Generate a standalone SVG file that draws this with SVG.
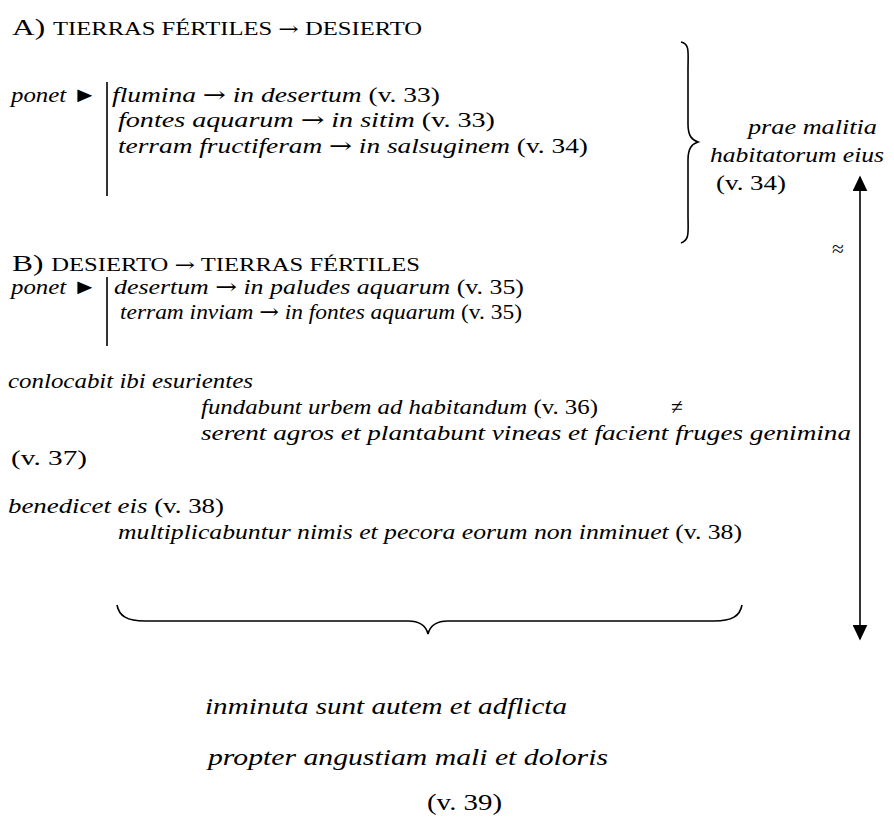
<svg xmlns="http://www.w3.org/2000/svg" width="894" height="819" viewBox="0 0 894 819">
<defs>
<style>
text{font-family:"Liberation Serif","Times New Roman",serif;font-size:21.5px;fill:#000}
.i{font-style:italic}
.sc{font-size:18px}
.hd{font-size:23px}
.big{font-size:23px}
.ar{font-family:"DejaVu Serif","Liberation Serif",serif}
.ln{stroke:#000;stroke-width:1.6;fill:none}
</style>
<marker id="ah" viewBox="0 0 10 10" refX="9" refY="5" markerWidth="16" markerHeight="15" markerUnits="userSpaceOnUse" orient="auto-start-reverse" preserveAspectRatio="none">
<path d="M0,0 L10,5 L0,10 Z" fill="#000"/>
</marker>
</defs>
<rect width="894" height="819" fill="#fff"/>
<g id="headA"><text x="12" y="35" class="hd" textLength="410" lengthAdjust="spacingAndGlyphs">A) <tspan class="sc">TIERRAS FÉRTILES <tspan class="ar">→</tspan> DESIERTO</tspan></text></g>
<g id="groupA">
<text x="11" y="102" textLength="86" lengthAdjust="spacingAndGlyphs"><tspan class="i">ponet</tspan> ►</text>
<line class="ln" x1="107" y1="82" x2="107" y2="196"/>
<text x="112" y="102" textLength="328" lengthAdjust="spacingAndGlyphs"><tspan class="i">flumina <tspan class="ar">→</tspan> in desertum</tspan> (v. 33)</text>
<text x="118" y="127" textLength="377" lengthAdjust="spacingAndGlyphs"><tspan class="i">fontes aquarum <tspan class="ar">→</tspan> in sitim</tspan>  (v. 33)</text>
<text x="118" y="153" textLength="470" lengthAdjust="spacingAndGlyphs"><tspan class="i">terram fructiferam <tspan class="ar">→</tspan>  in salsuginem</tspan> (v. 34)</text>
</g>
<g id="causa">
<text x="748" y="134" class="i" textLength="129" lengthAdjust="spacingAndGlyphs">prae malitia</text>
<text x="710" y="162" class="i" textLength="174" lengthAdjust="spacingAndGlyphs">habitatorum eius</text>
<text x="716" y="190" textLength="70" lengthAdjust="spacingAndGlyphs">(v. 34)</text>
</g>
<g id="headB"><text x="12" y="271" class="hd" textLength="408" lengthAdjust="spacingAndGlyphs">B) <tspan class="sc">DESIERTO <tspan class="ar">→</tspan> TIERRAS FÉRTILES</tspan></text></g>
<g id="groupB">
<text x="11" y="294" textLength="86" lengthAdjust="spacingAndGlyphs"><tspan class="i">ponet</tspan> ►</text>
<line class="ln" x1="107" y1="277" x2="107" y2="346"/>
<text x="114" y="294" textLength="410" lengthAdjust="spacingAndGlyphs"><tspan class="i">desertum <tspan class="ar">→</tspan> in paludes aquarum</tspan> (v. 35)</text>
<text x="120" y="319" textLength="402" lengthAdjust="spacingAndGlyphs"><tspan class="i">terram inviam <tspan class="ar">→</tspan> in fontes aquarum</tspan> (v. 35)</text>
</g>
<g id="conlocabit">
<text x="8" y="388" class="i" textLength="245" lengthAdjust="spacingAndGlyphs">conlocabit ibi esurientes</text>
<text x="201" y="414" textLength="397" lengthAdjust="spacingAndGlyphs"><tspan class="i">fundabunt urbem ad habitandum</tspan> (v. 36)</text>
<text x="671" y="414">≠</text>
<text x="201" y="440" class="i" textLength="650" lengthAdjust="spacingAndGlyphs">serent agros et plantabunt vineas et facient fruges genimina</text>
<text x="11" y="465" textLength="76" lengthAdjust="spacingAndGlyphs">(v. 37)</text>
</g>
<g id="benedicet">
<text x="8" y="513" textLength="216" lengthAdjust="spacingAndGlyphs"><tspan class="i">benedicet eis</tspan> (v. 38)</text>
<text x="118" y="539" textLength="624" lengthAdjust="spacingAndGlyphs"><tspan class="i">multiplicabuntur nimis et pecora eorum non inminuet</tspan> (v. 38)</text>
</g>
<g id="conclusion">
<text x="205" y="714" class="i big" textLength="362" lengthAdjust="spacingAndGlyphs">inminuta sunt autem et adflicta</text>
<text x="208" y="765" class="i big" textLength="400" lengthAdjust="spacingAndGlyphs">propter angustiam mali et doloris</text>
<text x="427" y="810" class="big" textLength="75" lengthAdjust="spacingAndGlyphs">(v. 39)</text>
</g>
<g id="connectors">
<path class="ln" d="M681,42 C690,44 688,52 688,70 L688,124 C688,136 692,140 698,142 C692,144 688,148 688,160 L688,214 C688,232 690,240 681,243"/>
<path class="ln" d="M117,605 C119,616 127,621 145,621 L408,621 C420,621 426,626 428,634 C430,626 436,621 448,621 L714,621 C732,621 740,616 742,605"/>
<line class="ln" x1="860" y1="177" x2="860" y2="639" marker-start="url(#ah)" marker-end="url(#ah)"/>
<text x="832" y="256">≈</text>
</g>
</svg>
